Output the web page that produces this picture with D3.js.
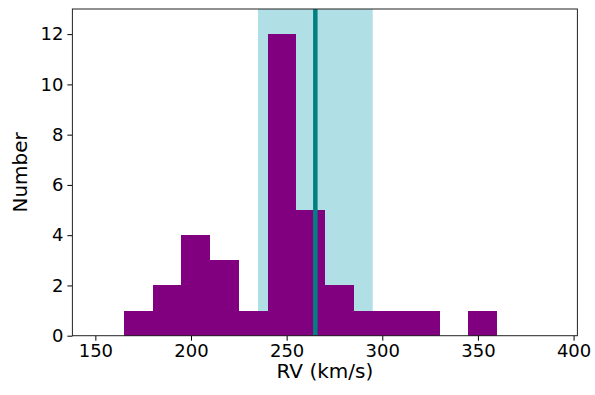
<!DOCTYPE html>
<html>
 <head>
  <meta charset="utf-8">
  <title>RV histogram</title>
  <script src="https://cdnjs.cloudflare.com/ajax/libs/d3/7.8.5/d3.min.js"></script>
  <style>
    body { margin: 0; background: #fff; }
    text { font-family: "DejaVu Sans", sans-serif; }
  </style>
 </head>
 <body>
  <div id="chart"></div>
  <script>
    // histogram bin edges (km/s) and counts
    var binStarts = [150, 165, 180, 195, 210, 225, 240, 255, 270, 285, 300, 315, 330, 345, 360, 375];
    var binWidth = 15;
    var counts    = [0, 1, 2, 4, 3, 1, 12, 5, 2, 1, 1, 1, 0, 1, 0, 0];
    var xTicks = [150, 200, 250, 300, 350, 400];
    var yTicks = [0, 2, 4, 6, 8, 10, 12];
    var meanRV = 265;
    var band = [235, 295];

    var width = 595, height = 395;
    // plot area (window.top is reserved, so use other names)
    var pL = 72.4, pR = 577.4, pT = 9, pB = 335.7;

    var svg = d3.select("#chart").append("svg")
                .attr("width", width)
                .attr("height", height);

    var x = d3.scaleLinear().domain([138, 402]).range([pL, pR]);
    var y = d3.scaleLinear().domain([0, 13]).range([pB, pT]);

    // shaded band
    svg.append("rect")
       .attr("x", x(band[0]))
       .attr("y", pT)
       .attr("width", x(band[1]) - x(band[0]))
       .attr("height", pB - pT)
       .attr("fill", "#b0e0e6");

    // bars
    svg.selectAll("rect.bar")
       .data(binStarts.map(function(s, i) { return { s: s, c: counts[i] }; }))
       .enter().append("rect")
       .attr("class", "bar")
       .attr("x", function(d) { return x(d.s); })
       .attr("y", function(d) { return y(d.c); })
       .attr("width", function(d) { return x(d.s + binWidth) - x(d.s); })
       .attr("height", function(d) { return y(0) - y(d.c); })
       .attr("fill", "#800080")
       .attr("shape-rendering", "crispEdges");

    // mean line
    svg.append("line")
       .attr("x1", x(meanRV)).attr("x2", x(meanRV))
       .attr("y1", pT).attr("y2", pB)
       .attr("stroke", "#008080")
       .attr("stroke-width", 4.5);

    // axes
    var xAxis = d3.axisBottom(x).tickValues(xTicks).tickSize(5).tickPadding(4);
    var yAxis = d3.axisLeft(y).tickValues(yTicks).tickSize(5).tickPadding(4);

    var gx = svg.append("g")
                .attr("transform", "translate(0," + pB + ")")
                .call(xAxis);
    var gy = svg.append("g")
                .attr("transform", "translate(" + pL + ",0)")
                .call(yAxis);
    [gx, gy].forEach(function(g) {
      g.select(".domain").remove();
      g.attr("font-size", null).attr("font-family", null);
      g.selectAll("line").attr("stroke", "#000").attr("stroke-width", 1);
      g.selectAll("text").attr("fill", "#000")
       .style("font-size", "18px")
       .style("font-family", "DejaVu Sans, sans-serif");
    });

    // frame
    svg.append("rect")
       .attr("x", pL).attr("y", pT)
       .attr("width", pR - pL).attr("height", pB - pT)
       .attr("fill", "none")
       .attr("stroke", "#222")
       .attr("stroke-width", 1);

    // axis labels
    svg.append("text")
       .attr("x", (pL + pR) / 2)
       .attr("y", 378)
       .attr("text-anchor", "middle")
       .style("font-size", "20px")
       .text("RV (km/s)");

    svg.append("text")
       .attr("transform", "translate(26.5," + ((pT + pB) / 2) + ") rotate(-90)")
       .attr("text-anchor", "middle")
       .style("font-size", "20px")
       .text("Number");
  </script>
 </body>
</html>
